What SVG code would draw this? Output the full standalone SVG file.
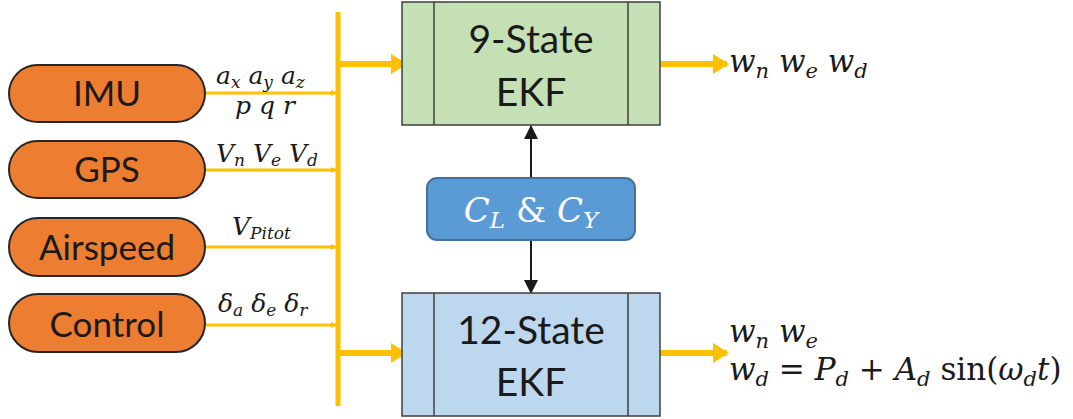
<svg xmlns="http://www.w3.org/2000/svg" width="1073" height="419" viewBox="0 0 1073 419">
  <defs>
    <style>
      .pill { fill: #ED7D31; stroke: #262626; stroke-width: 2; }
      .pilltxt { font-family: Lato, "Open Sans", sans-serif; font-size: 35px; fill: #1a1a1a; text-anchor: middle; }
      .ekf { stroke: #3f3f3f; stroke-width: 1.5; }
      .ekftxt { font-family: Lato, "Open Sans", sans-serif; font-size: 39px; fill: #1a1a1a; text-anchor: middle; }
      .math { font-family: "DejaVu Serif", "Liberation Serif", serif; font-style: italic; font-size: 25px; fill: #1a1a1a; }
      .sub { font-size: 17px; }
      .out { font-size: 31px; }
      .out .sub { font-size: 21px; }
      .up { font-style: normal; }
      .thin { stroke: #FFC000; stroke-width: 3; fill: none; }
      .bus { stroke: #FFC000; stroke-width: 5; fill: none; }
      .thick { stroke: #FFC000; stroke-width: 6; fill: none; }
      .blk { stroke: #1a1a1a; stroke-width: 2; fill: none; }
    </style>
    <marker id="smallHead" markerWidth="6" markerHeight="6" refX="5" refY="3" orient="auto" markerUnits="userSpaceOnUse">
      <path d="M0,0 L6,3 L0,6 z" fill="#FFC000"/>
    </marker>
    <marker id="bigHead" markerWidth="16" markerHeight="20" refX="14" refY="10" orient="auto" markerUnits="userSpaceOnUse">
      <path d="M0,0 L16,10 L0,20 z" fill="#FFC000"/>
    </marker>
    <marker id="blkHead" markerWidth="14" markerHeight="14" refX="13" refY="7" orient="auto" markerUnits="userSpaceOnUse">
      <path d="M0,0 L14,7 L0,14 z" fill="#1a1a1a"/>
    </marker>
  </defs>

  <!-- connectors -->
  <g id="connectors">
    <line class="thin" x1="205" y1="93" x2="336" y2="93" marker-end="url(#smallHead)"/>
    <line class="thin" x1="205" y1="170" x2="336" y2="170" marker-end="url(#smallHead)"/>
    <line class="thin" x1="205" y1="247" x2="336" y2="247" marker-end="url(#smallHead)"/>
    <line class="thin" x1="205" y1="325" x2="336" y2="325" marker-end="url(#smallHead)"/>
    <line class="bus" x1="338" y1="12" x2="338" y2="406"/>
    <line class="thick" x1="338" y1="64" x2="405" y2="64" marker-end="url(#bigHead)"/>
    <line class="thick" x1="338" y1="353" x2="405" y2="353" marker-end="url(#bigHead)"/>
    <line class="thick" x1="660" y1="64" x2="727" y2="64" marker-end="url(#bigHead)"/>
    <line class="thick" x1="660" y1="353" x2="727" y2="353" marker-end="url(#bigHead)"/>
    <line class="blk" x1="531" y1="178" x2="531" y2="126" marker-end="url(#blkHead)"/>
    <line class="blk" x1="531" y1="240" x2="531" y2="293" marker-end="url(#blkHead)"/>
  </g>

  <!-- sensor sources -->
  <g id="imu">
    <rect class="pill" x="9" y="65" width="196" height="57" rx="28.5"/>
    <text class="pilltxt" x="107" y="106">IMU</text>
  </g>
  <g id="gps">
    <rect class="pill" x="9" y="141" width="196" height="57" rx="28.5"/>
    <text class="pilltxt" x="107" y="182">GPS</text>
  </g>
  <g id="airspeed">
    <rect class="pill" x="9" y="218" width="196" height="58" rx="29"/>
    <text class="pilltxt" x="107" y="260">Airspeed</text>
  </g>
  <g id="control">
    <rect class="pill" x="9" y="294" width="196" height="58" rx="29"/>
    <text class="pilltxt" x="107" y="337">Control</text>
  </g>

  <!-- signal labels -->
  <g id="signal-labels">
    <text class="math" x="216" y="84">a<tspan class="sub" dy="4">x</tspan><tspan dy="-4"> a</tspan><tspan class="sub" dy="4">y</tspan><tspan dy="-4"> a</tspan><tspan class="sub" dy="4">z</tspan></text>
    <text class="math" x="235" y="114">p q r</text>
    <text class="math" x="216" y="162">V<tspan class="sub" dy="4">n</tspan><tspan dy="-4"> V</tspan><tspan class="sub" dy="4">e</tspan><tspan dy="-4"> V</tspan><tspan class="sub" dy="4">d</tspan></text>
    <text class="math" x="232" y="235">V<tspan class="sub" dy="4">Pitot</tspan></text>
    <text class="math" x="218" y="312">δ<tspan class="sub" dy="4">a</tspan><tspan dy="-4"> δ</tspan><tspan class="sub" dy="4">e</tspan><tspan dy="-4"> δ</tspan><tspan class="sub" dy="4">r</tspan></text>
  </g>

  <!-- filters -->
  <g id="ekf9">
    <rect class="ekf" x="402" y="2" width="258" height="123" fill="#C5E0B4"/>
    <line class="ekf" x1="434" y1="2" x2="434" y2="125"/>
    <line class="ekf" x1="628" y1="2" x2="628" y2="125"/>
    <text class="ekftxt" x="531" y="53">9-State</text>
    <text class="ekftxt" x="531" y="106">EKF</text>
  </g>
  <g id="ekf12">
    <rect class="ekf" x="402" y="293" width="258" height="123" fill="#BDD7EE"/>
    <line class="ekf" x1="434" y1="293" x2="434" y2="416"/>
    <line class="ekf" x1="628" y1="293" x2="628" y2="416"/>
    <text class="ekftxt" x="531" y="344">12-State</text>
    <text class="ekftxt" x="531" y="396">EKF</text>
  </g>
  <g id="coefficients">
    <rect x="427" y="178" width="208" height="62" rx="10" fill="#5B9BD5" stroke="#41719C" stroke-width="2"/>
    <text class="math" x="531" y="222" text-anchor="middle" style="font-size:34px;fill:#fff">C<tspan class="sub" style="font-size:23px" dy="6">L</tspan><tspan class="up" dy="-6"> &amp; </tspan>C<tspan class="sub" style="font-size:23px" dy="6">Y</tspan></text>
  </g>

  <!-- estimated wind outputs -->
  <g id="outputs">
    <text class="math out" x="729" y="72">w<tspan class="sub" dy="6">n</tspan><tspan dy="-6"> w</tspan><tspan class="sub" dy="6">e</tspan><tspan dy="-6"> w</tspan><tspan class="sub" dy="6">d</tspan></text>
    <text class="math out" x="729" y="342">w<tspan class="sub" dy="6">n</tspan><tspan dy="-6"> w</tspan><tspan class="sub" dy="6">e</tspan></text>
    <text class="math out" x="729" y="380">w<tspan class="sub" dy="6">d</tspan><tspan class="up" dy="-6"> = </tspan>P<tspan class="sub" dy="6">d</tspan><tspan class="up" dy="-6"> + </tspan>A<tspan class="sub" dy="6">d</tspan><tspan class="up" dy="-6"> sin(</tspan>ω<tspan class="sub" dy="6">d</tspan><tspan dy="-6">t</tspan><tspan class="up">)</tspan></text>
  </g>
</svg>
